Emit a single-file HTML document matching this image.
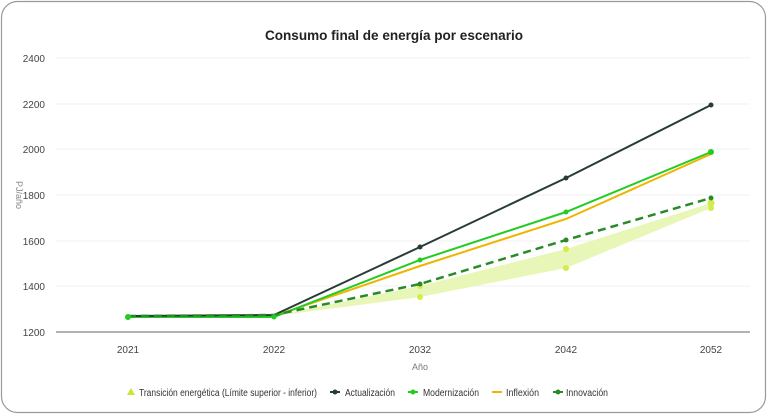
<!DOCTYPE html>
<html><head><meta charset="utf-8"><style>
html,body{margin:0;padding:0;background:#fff;width:768px;height:416px;overflow:hidden}
</style></head><body>
<svg width="768" height="416" xmlns="http://www.w3.org/2000/svg" font-family="Liberation Sans, sans-serif">
<rect x="1.5" y="1.5" width="764" height="411" rx="16" fill="#fff" stroke="#9a9a9a" stroke-width="1.2"/>
<text x="394" y="40" text-anchor="middle" font-size="14" font-weight="bold" fill="#222" textLength="258" lengthAdjust="spacingAndGlyphs">Consumo final de energía por escenario</text>
<g stroke="#f0f0f0" stroke-width="1">
<line x1="56" y1="58" x2="750" y2="58"/><line x1="56" y1="104" x2="750" y2="104"/>
<line x1="56" y1="149" x2="750" y2="149"/><line x1="56" y1="195" x2="750" y2="195"/>
<line x1="56" y1="241" x2="750" y2="241"/><line x1="56" y1="286" x2="750" y2="286"/>
</g>
<line x1="56" y1="332" x2="750" y2="332" stroke="#666" stroke-width="1"/>
<g font-size="10" fill="#444" text-anchor="end">
<text x="45" y="62">2400</text><text x="45" y="108">2200</text><text x="45" y="153">2000</text>
<text x="45" y="199">1800</text><text x="45" y="245">1600</text><text x="45" y="290">1400</text><text x="45" y="336">1200</text>
</g>
<text x="16" y="195" font-size="9" fill="#888" transform="rotate(90 16 195)" text-anchor="middle">PJ/año</text>
<g font-size="10" fill="#444" text-anchor="middle">
<text x="128" y="353">2021</text><text x="274" y="353">2022</text><text x="420" y="353">2032</text>
<text x="566" y="353">2042</text><text x="711" y="353">2052</text>
</g>
<text x="420" y="370" font-size="9" fill="#777" text-anchor="middle">Año</text>
<polygon points="274,316 420,286 566,249 711,203 711,208 566,268 420,297 274,316" fill="#e6f5b0" opacity="0.9"/>
<g fill="#d4ec4a"><circle cx="420" cy="286" r="3"/><circle cx="420" cy="297" r="3"/><circle cx="566" cy="249" r="3"/><circle cx="566" cy="268" r="3"/><circle cx="711" cy="203" r="3.5"/><circle cx="711" cy="208" r="3"/></g>
<polyline points="128,316 274,316 420,266 566,219 711,154" fill="none" stroke="#f0b400" stroke-width="2"/>
<polyline points="128,317 274,317 420,260 566,212 711,152" fill="none" stroke="#22cc22" stroke-width="2"/>
<polyline points="128,316 274,315 420,247 566,178 711,105" fill="none" stroke="#263c34" stroke-width="2"/>
<polyline points="128,316 274,315 420,284 566,240 711,198" fill="none" stroke="#2a8a2a" stroke-width="2.5" stroke-dasharray="8,5"/>
<g fill="#263c34"><circle cx="420" cy="247" r="2.5"/><circle cx="566" cy="178" r="2.5"/><circle cx="711" cy="105" r="2.5"/></g>
<g fill="#22cc22"><circle cx="128" cy="317" r="3"/><circle cx="274" cy="317" r="2.5"/><circle cx="420" cy="260" r="2.5"/><circle cx="566" cy="212" r="2.5"/><circle cx="711" cy="152" r="3"/></g>
<g fill="#2a8a2a"><circle cx="420" cy="284" r="2.5"/><circle cx="566" cy="240" r="2.5"/><circle cx="711" cy="198" r="2.5"/></g>
<g font-size="10" fill="#333">
<polygon points="127,395 131,388 135,395" fill="#c8e830"/>
<text x="139" y="396" textLength="178" lengthAdjust="spacingAndGlyphs">Transición energética (Límite superior - inferior)</text>
<line x1="330" y1="392" x2="340" y2="392" stroke="#263c34" stroke-width="2"/><circle cx="335" cy="392" r="2.5" fill="#263c34"/>
<text x="345" y="396" textLength="50" lengthAdjust="spacingAndGlyphs">Actualización</text>
<line x1="408" y1="392" x2="418" y2="392" stroke="#22cc22" stroke-width="2"/><circle cx="413" cy="392" r="2.5" fill="#22cc22"/>
<text x="423" y="396" textLength="56" lengthAdjust="spacingAndGlyphs">Modernización</text>
<line x1="492" y1="392" x2="502" y2="392" stroke="#f0b400" stroke-width="2"/>
<text x="506" y="396" textLength="33" lengthAdjust="spacingAndGlyphs">Inflexión</text>
<line x1="553" y1="392" x2="563" y2="392" stroke="#2a8a2a" stroke-width="2"/><circle cx="558" cy="392" r="2.5" fill="#2a8a2a"/>
<text x="566" y="396" textLength="42" lengthAdjust="spacingAndGlyphs">Innovación</text>
</g>
</svg>
</body></html>
